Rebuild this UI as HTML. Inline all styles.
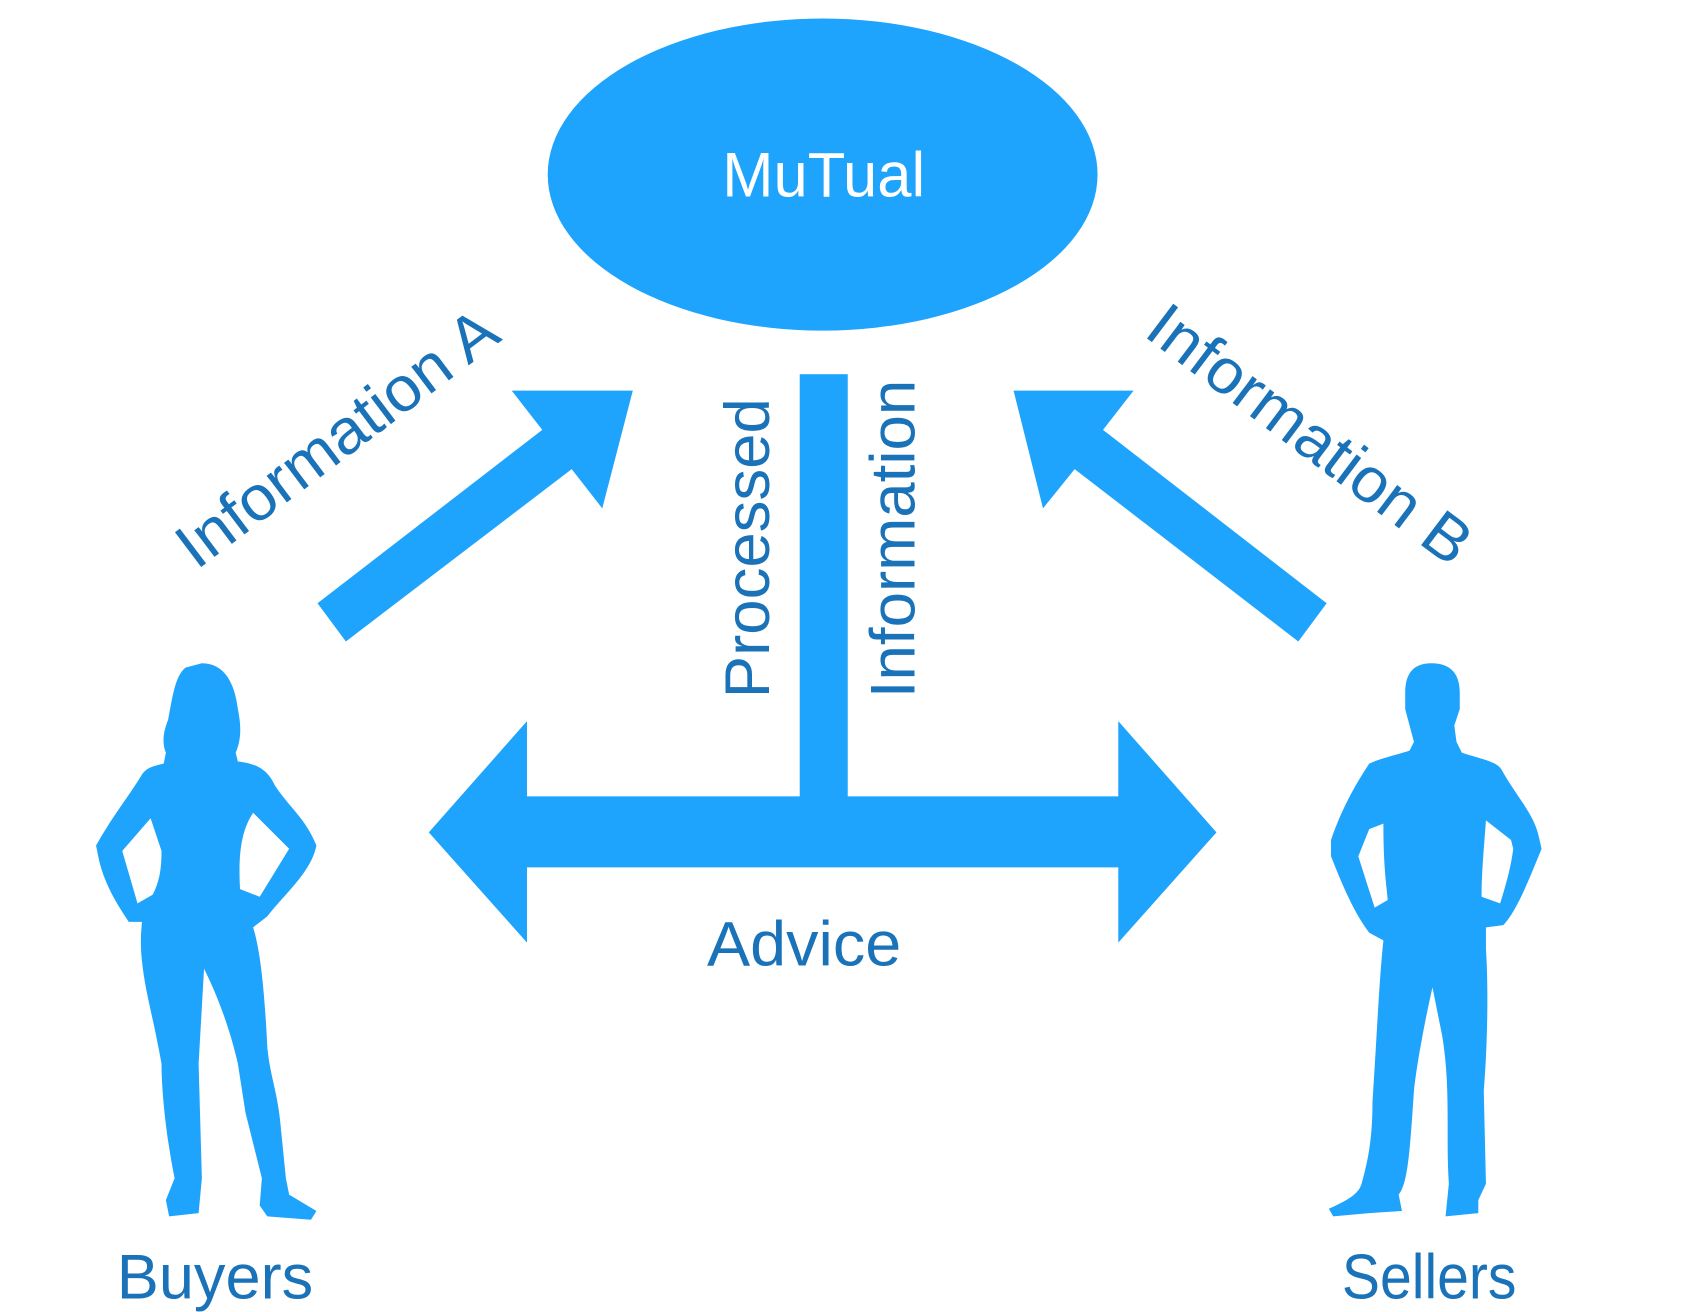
<!DOCTYPE html>
<html><head><meta charset="utf-8"><style>
html,body{margin:0;padding:0;background:#fff;}
svg{display:block;}
text{font-family:"Liberation Sans",sans-serif;}
</style></head><body>
<svg width="1702" height="1312" viewBox="0 0 1560 1202.6" xmlns="http://www.w3.org/2000/svg">
<g fill="#1ea4fc">
<ellipse cx="754" cy="160" rx="252" ry="143"/>
<rect x="733" y="343" width="44" height="390"/>
<polygon points="393,763 483,661 483,730 1025,730 1025,661 1115,763 1025,864 1025,795 483,795 483,864"/>
<polygon points="291,553 317,588 524,430 552,466 580,358 469,358 497,394"/>
<polygon points="1216,553 1190,588 985,430 956,466 929,358 1039,358 1011,394"/>
<path fill-rule="evenodd" d="M185,608 C205,608 215,625 218,650 C222,670 220,680 216,690 L218,698 C235,700 245,705 252,720 C265,740 280,750 290,775 C285,800 260,820 245,840 L232,850 C238,870 242,900 245,960 C248,990 255,1000 258,1040 L262,1080 L265,1095 L290,1110 L285,1118 L245,1115 L238,1105 L240,1080 L225,1020 L218,975 C210,940 198,910 187,888 L182,975 L185,1080 L182,1112 L155,1115 L152,1100 L160,1080 C150,1030 148,990 148,975 C140,930 133,910 130,880 C128,860 130,850 130,845 L118,845 C108,830 95,810 90,785 L88,775 C105,745 118,730 130,710 C135,703 142,702 150,700 L152,690 C148,680 150,670 154,660 C158,640 160,620 170,612 Z M138,750 L112,780 L126,828 L140,820 C145,810 148,800 148,780 Z M232,745 C222,760 218,780 220,815 L238,822 L265,778 Z"/>
<path fill-rule="evenodd" d="M1312,608 C1330,608 1338,618 1338,635 L1338,650 L1333,665 L1335,680 L1340,690 C1355,695 1372,698 1376,705 C1390,730 1405,745 1410,765 L1413,778 C1400,810 1390,835 1378,848 L1362,850 L1362,870 C1364,900 1364,950 1360,1000 L1362,1085 L1355,1100 L1355,1112 L1325,1115 L1328,1085 C1325,1040 1330,1000 1322,950 L1313,905 C1305,940 1298,980 1296,1000 C1292,1060 1290,1085 1282,1095 L1285,1110 L1255,1112 L1222,1115 L1218,1108 C1235,1100 1245,1095 1248,1085 C1255,1060 1258,1040 1258,1010 C1262,950 1264,900 1268,862 L1255,855 C1240,835 1230,810 1220,785 L1220,770 C1230,740 1245,715 1255,700 C1265,695 1280,692 1292,688 L1296,680 L1292,665 L1288,650 L1288,635 C1288,618 1295,608 1312,608 Z M1255,760 L1245,785 L1260,832 L1272,825 C1270,805 1268,790 1268,755 Z M1362,752 C1360,780 1358,800 1358,822 L1375,828 C1380,812 1385,795 1387,778 L1385,770 Z"/>
</g>
<text x="662" y="180" font-size="58" fill="#fff" textLength="186" lengthAdjust="spacingAndGlyphs">MuTual</text>
<g fill="#1a72b8" font-size="58">
<text x="648" y="885" textLength="178" lengthAdjust="spacingAndGlyphs">Advice</text>
<text x="107" y="1190" textLength="180" lengthAdjust="spacingAndGlyphs">Buyers</text>
<text x="1230" y="1190" textLength="160" lengthAdjust="spacingAndGlyphs">Sellers</text>
<text x="0" y="0" transform="translate(705,640) rotate(-90)" textLength="275" lengthAdjust="spacingAndGlyphs">Processed</text>
<text x="0" y="0" transform="translate(838,640) rotate(-90)" textLength="292" lengthAdjust="spacingAndGlyphs">Information</text>
<text x="0" y="0" transform="translate(180,523) rotate(-37)" textLength="352" lengthAdjust="spacingAndGlyphs">Information A</text>
<text x="0" y="0" transform="translate(1047,307) rotate(37)" textLength="355" lengthAdjust="spacingAndGlyphs">Information B</text>
</g>
</svg>
</body></html>
